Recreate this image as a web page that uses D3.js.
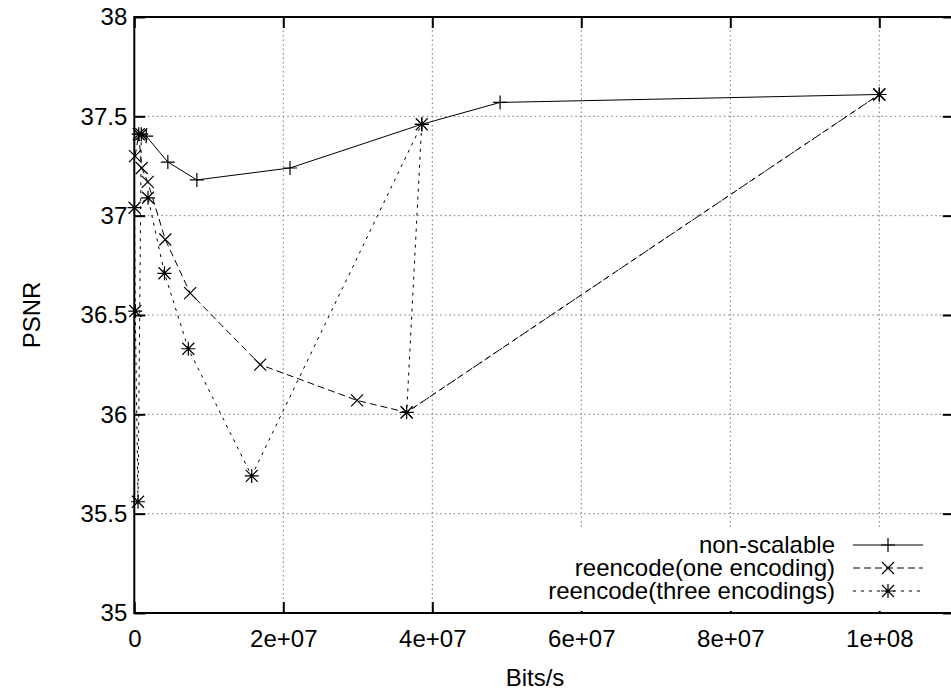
<!DOCTYPE html>
<html>
<head>
<meta charset="utf-8">
<script src="https://cdn.jsdelivr.net/npm/d3@7"></script>
<style>
  html, body { margin: 0; padding: 0; background: #fff; }
  svg { display: block; font-family: "Liberation Sans", Arial, Helvetica, sans-serif; }
</style>
</head>
<body>
<svg id="chart" width="951" height="690"></svg>
<script>
// Tick values and their printed labels
const xTicks = [0, 2e7, 4e7, 6e7, 8e7, 1e8];
const xTickLabels = ["0", "2e+07", "4e+07", "6e+07", "8e+07", "1e+08"];
const yTicks = [35, 35.5, 36, 36.5, 37, 37.5, 38];
const yTickLabels = ["35", "35.5", "36", "36.5", "37", "37.5", "38"];

// non-scalable
const nonScalableRate = [6e5, 1.6e6, 4.5e6, 8.4e6, 2.09e7, 3.86e7, 4.91e7, 1e8];
const nonScalablePsnr = [37.41, 37.40, 37.27, 37.18, 37.24, 37.46, 37.57, 37.61];

// reencode(one encoding)
const oneEncRate = [1e5, 6e5, 1.0e6, 1.8e6, 4.16e6, 7.5e6, 1.69e7, 2.99e7, 3.656e7, 1e8];
const oneEncPsnr = [37.30, 37.41, 37.24, 37.17, 36.88, 36.61, 36.25, 36.07, 36.01, 37.61];

// reencode(three encodings), in recorded order
const threeEncRate = [9.4e5, 5e5, 1.3e5, 3e4, 1.84e6, 4.05e6, 7.25e6, 1.576e7, 3.858e7, 3.656e7, 1e8];
const threeEncPsnr = [37.41, 35.56, 36.52, 37.04, 37.09, 36.71, 36.33, 35.69, 37.46, 36.01, 37.61];

const seriesNames = ["non-scalable", "reencode(one encoding)", "reencode(three encodings)"];

const svg = d3.select("#chart");
const plotLeft = 134.3, plotRight = 953.8, plotTop = 17, plotBottom = 613;

const x = d3.scaleLinear().domain([0, 1.1e8]).range([plotLeft, plotRight]);
const y = d3.scaleLinear().domain([35, 38]).range([plotBottom, plotTop]);

const FONT = 24;
const tickLen = 11;

// grid
const grid = svg.append("g").attr("stroke", "#777").attr("stroke-width", 1)
  .attr("stroke-dasharray", "1.5,3").attr("fill", "none");
grid.selectAll("line.gx").data(xTicks.slice(1)).join("line")
  .attr("x1", d => x(d)).attr("x2", d => x(d)).attr("y1", plotTop).attr("y2", plotBottom);
grid.selectAll("line.gy").data(yTicks.slice(1, -1)).join("line")
  .attr("x1", plotLeft).attr("x2", plotRight).attr("y1", d => y(d)).attr("y2", d => y(d));

// axes (ticks drawn inward, mirrored on top and right)
function styleAxis(g) {
  g.select(".domain").remove();
  g.selectAll(".tick line").attr("stroke", "#000").attr("stroke-width", 2);
  g.selectAll(".tick text").attr("fill", "#000").style("font-size", FONT + "px")
    .style("font-family", '"Liberation Sans", Arial, sans-serif');
}
svg.append("g").attr("transform", `translate(0,${plotBottom})`)
  .call(d3.axisBottom(x).tickValues(xTicks).tickFormat((d, i) => xTickLabels[i])
    .tickSizeInner(-tickLen).tickSizeOuter(0).tickPadding(17))
  .call(styleAxis);
svg.append("g").attr("transform", `translate(0,${plotTop})`)
  .call(d3.axisTop(x).tickValues(xTicks).tickFormat("")
    .tickSizeInner(-tickLen).tickSizeOuter(0))
  .call(styleAxis);
svg.append("g").attr("transform", `translate(${plotLeft},0)`)
  .call(d3.axisLeft(y).tickValues(yTicks).tickFormat((d, i) => yTickLabels[i])
    .tickSizeInner(-tickLen).tickSizeOuter(0).tickPadding(7))
  .call(styleAxis);
svg.append("g").attr("transform", `translate(${plotRight},0)`)
  .call(d3.axisRight(y).tickValues(yTicks).tickFormat("")
    .tickSizeInner(-tickLen).tickSizeOuter(0))
  .call(styleAxis);

// legend backdrop keeps the grid out of the key area
svg.append("rect").attr("x", 545).attr("y", 527).attr("width", 406).attr("height", 84)
  .attr("fill", "#fff");

// series
const dashes = [null, "7,4", "3,5"];
const rates = [nonScalableRate, oneEncRate, threeEncRate];
const psnrs = [nonScalablePsnr, oneEncPsnr, threeEncPsnr];

const line = d3.line().x(d => x(d[0])).y(d => y(d[1]));

function marker(g, type, cx, cy) {
  const s = 7, d = 6;
  let p = "";
  if (type === 0 || type === 2) p += `M${cx - s},${cy}H${cx + s}M${cx},${cy - s}V${cy + s}`;
  if (type === 1 || type === 2) p += `M${cx - d},${cy - d}L${cx + d},${cy + d}M${cx - d},${cy + d}L${cx + d},${cy - d}`;
  g.append("path").attr("d", p).attr("stroke", "#000").attr("stroke-width", 1.2).attr("fill", "none");
}

const plot = svg.append("g");
rates.forEach((r, k) => {
  const pts = r.map((v, i) => [v, psnrs[k][i]]);
  plot.append("path").datum(pts).attr("d", line)
    .attr("fill", "none").attr("stroke", "#000").attr("stroke-width", 1)
    .attr("stroke-dasharray", dashes[k]);
  pts.forEach(p => marker(plot, k, x(p[0]), y(p[1])));
});

// legend
const legendTextX = 835, sampleX1 = 853, sampleX2 = 923;
const rowY = [545, 568, 591];
seriesNames.forEach((name, k) => {
  svg.append("text").attr("x", legendTextX).attr("y", rowY[k]).attr("dy", "0.35em")
    .attr("text-anchor", "end").style("font-size", FONT + "px").text(name);
  svg.append("line").attr("x1", sampleX1).attr("x2", sampleX2)
    .attr("y1", rowY[k]).attr("y2", rowY[k])
    .attr("stroke", "#000").attr("stroke-width", 1).attr("stroke-dasharray", dashes[k]);
  marker(svg, k, (sampleX1 + sampleX2) / 2, rowY[k]);
});

// border
svg.append("rect").attr("x", plotLeft).attr("y", plotTop)
  .attr("width", plotRight - plotLeft).attr("height", plotBottom - plotTop)
  .attr("fill", "none").attr("stroke", "#000").attr("stroke-width", 2);

// axis titles
svg.append("text").attr("transform", "translate(32,315) rotate(-90)")
  .attr("text-anchor", "middle").attr("dy", "0.35em")
  .style("font-size", FONT + "px").text("PSNR");
svg.append("text").attr("x", 535).attr("y", 678).attr("dy", "0.35em")
  .attr("text-anchor", "middle").style("font-size", FONT + "px").text("Bits/s");
</script>
</body>
</html>
